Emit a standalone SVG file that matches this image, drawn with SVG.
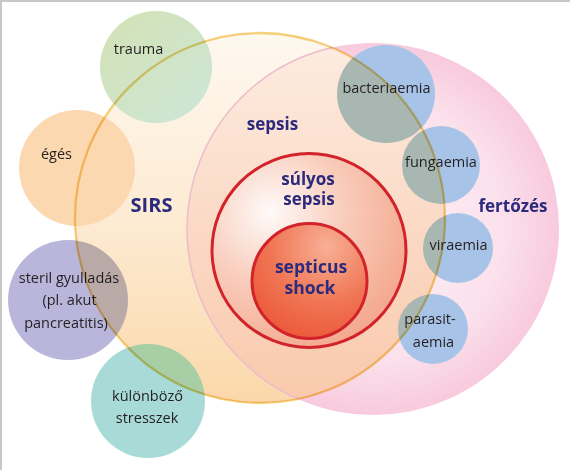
<svg xmlns="http://www.w3.org/2000/svg" width="570" height="470" viewBox="0 0 570 470">
<defs>
<style>
.lbl{font-family:"Open Sans","Liberation Sans",sans-serif;font-size:14.5px;fill:#231f20;text-anchor:middle}
.big{font-family:"Open Sans","Liberation Sans",sans-serif;font-weight:bold;fill:#2b2a7c;text-anchor:middle}
.tint{fill:#fff0c4;mix-blend-mode:multiply}
.blue{fill:#a8c3e8}
</style>
<linearGradient id="gSirs" x1="0" y1="0" x2="0" y2="1">
<stop offset="0" stop-color="#fef8ef"/>
<stop offset="0.5" stop-color="#fdebd3"/>
<stop offset="1" stop-color="#fbd8aa"/>
</linearGradient>
<radialGradient id="gInf" cx="0.5" cy="0.5" r="0.5">
<stop offset="0" stop-color="#fdf2f6"/>
<stop offset="0.7" stop-color="#fbe1ec"/>
<stop offset="1" stop-color="#f8cadd"/>
</radialGradient>
<linearGradient id="gSep" x1="0" y1="0" x2="0" y2="1">
<stop offset="0" stop-color="#fdece0"/>
<stop offset="0.5" stop-color="#fbd9c5"/>
<stop offset="1" stop-color="#f9c8aa"/>
</linearGradient>
<radialGradient id="gSev" cx="0.3" cy="0.3" r="0.75">
<stop offset="0" stop-color="#fefaf8"/>
<stop offset="0.5" stop-color="#f9cdbc"/>
<stop offset="1" stop-color="#f4aa90"/>
</radialGradient>
<radialGradient id="gShock" cx="0.65" cy="0.2" r="0.9">
<stop offset="0" stop-color="#f8b096"/>
<stop offset="0.55" stop-color="#f07554"/>
<stop offset="1" stop-color="#eb5435"/>
</radialGradient>
<linearGradient id="gTrauma" x1="0" y1="0" x2="1" y2="1">
<stop offset="0" stop-color="#d3e2b4"/>
<stop offset="1" stop-color="#cde6d8"/>
</linearGradient>
<clipPath id="clipSirs"><circle cx="260" cy="218" r="185"/></clipPath>
</defs>
<rect x="0" y="0" width="570" height="470" fill="#ffffff"/>
<path d="M1 470 V1 H570" fill="none" stroke="#c8c8c8" stroke-width="2"/>

<g id="sirs-fill"><circle cx="260" cy="218" r="185" fill="url(#gSirs)"/></g>
<g id="fertozes-fill"><circle cx="373" cy="229" r="186" fill="url(#gInf)"/></g>
<g id="sepsis-fill"><circle cx="373" cy="229" r="186" fill="url(#gSep)" clip-path="url(#clipSirs)"/></g>
<circle cx="373" cy="229" r="186" fill="none" stroke="#ecbccc" stroke-width="1.5" clip-path="url(#clipSirs)"/>

<g id="sulyos-sepsis">
<circle cx="309" cy="250.5" r="97" fill="url(#gSev)" stroke="#d2232a" stroke-width="3"/>
<text class="big" x="308" y="185" font-size="17">súlyos</text>
<text class="big" x="309" y="205" font-size="17">sepsis</text>
</g>
<g id="septicus-shock">
<circle cx="309.5" cy="281" r="57.5" fill="url(#gShock)" stroke="#d2232a" stroke-width="3"/>
<text class="big" x="311" y="273" font-size="17.5">septicus</text>
<text class="big" x="310" y="294" font-size="17.5">shock</text>
</g>

<g id="labels">
<text class="big" x="151.5" y="212" font-size="20">SIRS</text>
<text class="big" x="272.5" y="130" font-size="17">sepsis</text>
<text class="big" x="513" y="212" font-size="17">fertőzés</text>
</g>

<g id="trauma"><circle cx="156" cy="67" r="56" fill="url(#gTrauma)"/><text class="lbl" x="138.5" y="54">trauma</text></g>
<g id="eges"><circle cx="77" cy="168" r="58" fill="#fbd8b0"/><text class="lbl" x="56.5" y="159">égés</text></g>
<g id="steril"><circle cx="68" cy="300" r="60" fill="#b9b5db"/>
<circle class="tint" cx="68" cy="300" r="60" clip-path="url(#clipSirs)"/>
<text class="lbl" x="69" y="283">steril gyulladás</text>
<text class="lbl" x="69.5" y="305">(pl. akut</text>
<text class="lbl" x="66" y="328">pancreatitis)</text></g>
<g id="kulonbozo"><circle cx="148" cy="401" r="57" fill="#a8dbd7"/>
<circle class="tint" cx="148" cy="401" r="57" clip-path="url(#clipSirs)"/>
<text class="lbl" x="147.5" y="401">különböző</text>
<text class="lbl" x="147" y="423">stresszek</text></g>
<g id="bacteriaemia"><circle class="blue" cx="386" cy="94" r="49"/><circle class="tint" cx="386" cy="94" r="49" clip-path="url(#clipSirs)"/><text class="lbl" x="386.5" y="93">bacteriaemia</text></g>
<g id="fungaemia"><circle class="blue" cx="441" cy="165" r="39"/><circle class="tint" cx="441" cy="165" r="39" clip-path="url(#clipSirs)"/><text class="lbl" x="441" y="167">fungaemia</text></g>
<g id="viraemia"><circle class="blue" cx="458" cy="248" r="35"/><circle class="tint" cx="458" cy="248" r="35" clip-path="url(#clipSirs)"/><text class="lbl" x="458.5" y="250">viraemia</text></g>
<g id="parasitaemia"><circle class="blue" cx="433" cy="329" r="35"/><circle class="tint" cx="433" cy="329" r="35" clip-path="url(#clipSirs)"/>
<text class="lbl" x="430" y="324">parasit-</text>
<text class="lbl" x="433.5" y="347">aemia</text></g>

<g id="sirs-outline"><circle cx="260" cy="218" r="185" fill="none" stroke="#f5d27e" stroke-width="2.3" style="mix-blend-mode:multiply"/></g>
</svg>
